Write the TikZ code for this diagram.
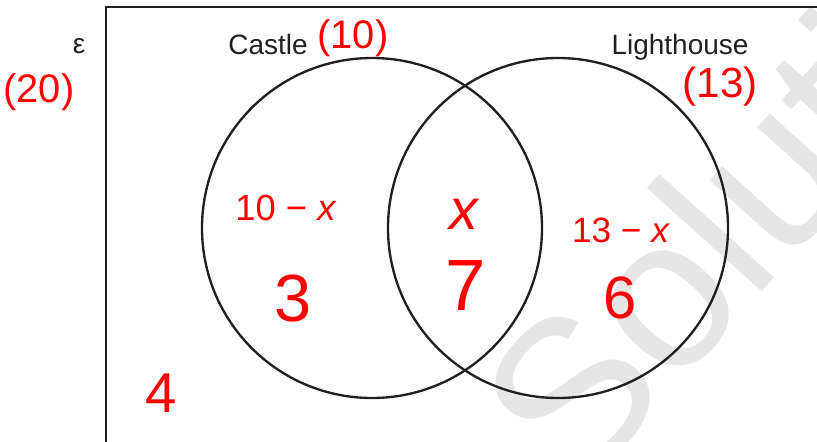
\documentclass[tikz,border=0pt]{standalone}
\usepackage{fontspec}
\setmainfont{Liberation Sans}
\definecolor{ink}{HTML}{231F20}
\definecolor{pen}{HTML}{FF0000}
\definecolor{wmark}{HTML}{E6E6E6}
\begin{document}
\begin{tikzpicture}[x=0.03cm,y=-0.03cm,
  lbl/.style={text=ink,inner sep=0pt,font=\fontsize{23.9}{28}\selectfont},
  hand/.style={text=pen,inner sep=0pt,font=\fontsize{#1}{#1}\selectfont}]
  \useasboundingbox (0,0) rectangle (817,441);
  \clip (0,0) rectangle (817,441);
  % watermark
  \node[text=wmark,rotate=48,anchor=base west,inner sep=0pt,
    font=\fontsize{182}{213}\selectfont] (wm) at (578,496) {Solutions};
  \coordinate (C) at (372,228);
  \coordinate (L) at (558,228);
  \def\r{170}
  \draw[ink,line width=2pt] (106,7) rectangle (860,480);
  \draw[ink,line width=2pt] (C) circle (\r);
  \draw[ink,line width=2pt] (L) circle (\r);
  % set labels
  \node[lbl] (eps) at (79,46) {ε};
  \node[lbl,anchor=base] (castle) at (268,54) {Castle};
  \node[lbl,anchor=base] (light) at (680,54) {Lighthouse};
  % worked answers
  \node[hand=34] (n20) at (39,92) {(20)};
  \node[hand=34] (n10) at (353,38) {(10)};
  \node[hand=36] (n13) at (720,87) {(13)};
  \node[hand=31] (onlyC) at (286,208) {10 − \textit{x}};
  \node[hand=49] (both) at (465,214) {\textit{x}};
  \node[hand=30] (onlyL) at (621,230) {13 − \textit{x}};
  \node[hand=57] (three) at (293,299) {3};
  \node[hand=62] (seven) at (466,286) {7};
  \node[hand=51] (six) at (620,298) {6};
  \node[hand=48] (four) at (161,393) {4};
\end{tikzpicture}
\end{document}
